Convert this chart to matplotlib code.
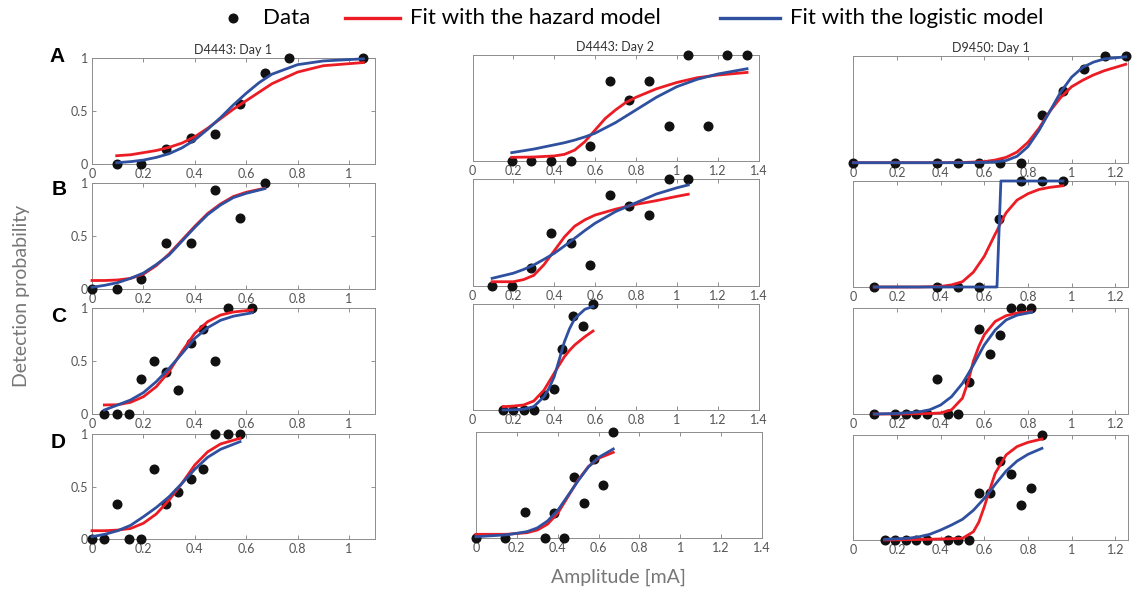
import matplotlib
matplotlib.use("Agg")
import matplotlib.pyplot as plt
from matplotlib.lines import Line2D

# ---- data ----
a1_x = [0.096, 0.192, 0.288, 0.384, 0.48, 0.576, 0.672, 0.768, 1.056]
a1_y = [0, 0, 0.143, 0.25, 0.286, 0.571, 0.857, 1, 1]
a1_fit_x = [0.096, 0.15, 0.2, 0.25, 0.3, 0.35, 0.4, 0.45, 0.5, 0.55, 0.6, 0.65, 0.7, 0.8, 0.9, 1.056]
a1_haz = [0.081, 0.09, 0.11, 0.13, 0.16, 0.20, 0.26, 0.34, 0.43, 0.52, 0.60, 0.68, 0.76, 0.87, 0.93, 0.96]
a1_log = [0.015, 0.025, 0.04, 0.065, 0.10, 0.155, 0.23, 0.33, 0.44, 0.56, 0.67, 0.77, 0.85, 0.94, 0.975, 0.995]

a2_x = [0.192, 0.288, 0.384, 0.48, 0.576, 0.672, 0.768, 0.864, 0.96, 1.056, 1.152, 1.248, 1.344]
a2_y = [0, 0, 0, 0, 0.143, 0.75, 0.571, 0.75, 0.333, 1, 0.333, 1, 1]
a2_fit_x = [0.192, 0.3, 0.4, 0.45, 0.5, 0.55, 0.6, 0.65, 0.7, 0.75, 0.8, 0.9, 1.0, 1.1, 1.2, 1.344]
a2_haz = [0.032, 0.035, 0.045, 0.06, 0.10, 0.18, 0.29, 0.40, 0.48, 0.55, 0.60, 0.68, 0.74, 0.785, 0.81, 0.835]
a2_log = [0.076, 0.11, 0.15, 0.17, 0.195, 0.225, 0.26, 0.31, 0.36, 0.42, 0.48, 0.60, 0.70, 0.77, 0.82, 0.87]

a3_x = [0, 0.192, 0.384, 0.48, 0.576, 0.672, 0.768, 0.864, 0.96, 1.056, 1.152, 1.248]
a3_y = [0, 0, 0, 0, 0, 0, 0, 0.444, 0.667, 0.875, 1, 1]
a3_fit_x = [0, 0.2, 0.4, 0.5, 0.6, 0.65, 0.7, 0.75, 0.8, 0.85, 0.9, 0.95, 1.0, 1.05, 1.1, 1.15, 1.248]
a3_haz = [0, 0, 0, 0.002, 0.01, 0.025, 0.05, 0.10, 0.19, 0.32, 0.48, 0.61, 0.71, 0.77, 0.82, 0.86, 0.92]
a3_log = [0, 0, 0, 0, 0.003, 0.008, 0.02, 0.06, 0.15, 0.30, 0.48, 0.66, 0.80, 0.89, 0.94, 0.97, 0.99]

b1_x = [0, 0.096, 0.192, 0.288, 0.384, 0.48, 0.576, 0.672]
b1_y = [0, 0, 0.091, 0.429, 0.429, 0.929, 0.667, 1]
b1_fit_x = [0, 0.05, 0.1, 0.15, 0.2, 0.25, 0.3, 0.35, 0.4, 0.45, 0.5, 0.55, 0.6, 0.672]
b1_haz = [0.08, 0.08, 0.085, 0.10, 0.14, 0.22, 0.33, 0.46, 0.59, 0.71, 0.80, 0.87, 0.91, 0.948]
b1_log = [0.016, 0.035, 0.06, 0.10, 0.15, 0.23, 0.32, 0.45, 0.58, 0.70, 0.79, 0.86, 0.90, 0.944]

b2_x = [0.096, 0.192, 0.288, 0.384, 0.48, 0.576, 0.672, 0.768, 0.864, 0.96, 1.056]
b2_y = [0, 0, 0.167, 0.5, 0.4, 0.2, 0.857, 0.75, 0.667, 1, 1]
b2_fit_x = [0.096, 0.2, 0.25, 0.3, 0.35, 0.4, 0.45, 0.5, 0.55, 0.6, 0.7, 0.8, 0.9, 1.0, 1.056]
b2_haz = [0.04, 0.04, 0.06, 0.10, 0.20, 0.33, 0.46, 0.56, 0.62, 0.665, 0.72, 0.765, 0.80, 0.84, 0.86]
b2_log = [0.072, 0.12, 0.155, 0.197, 0.25, 0.306, 0.375, 0.447, 0.52, 0.588, 0.697, 0.78, 0.862, 0.92, 0.947]

b3_x = [0.096, 0.384, 0.48, 0.576, 0.667, 0.768, 0.864, 0.96]
b3_y = [0, 0, 0, 0, 0.64, 1, 1, 1]
b3_fit_x = [0.096, 0.3, 0.4, 0.45, 0.5, 0.55, 0.6, 0.65, 0.658, 0.676, 0.7, 0.75, 0.8, 0.85, 0.9, 0.96]
b3_haz = [0, 0, 0.005, 0.02, 0.05, 0.14, 0.29, 0.50, 0.53, 0.61, 0.70, 0.82, 0.88, 0.92, 0.94, 0.955]
b3_log = [0, 0, 0, 0, 0, 0, 0, 0, 0, 1, 1, 1, 1, 1, 1, 1]

c1_x = [0.048, 0.096, 0.144, 0.192, 0.24, 0.288, 0.336, 0.384, 0.432, 0.48, 0.528, 0.624]
c1_y = [0, 0, 0, 0.333, 0.5, 0.4, 0.222, 0.667, 0.8, 0.5, 1, 1]
c1_fit_x = [0.048, 0.1, 0.15, 0.2, 0.25, 0.3, 0.35, 0.4, 0.45, 0.5, 0.55, 0.624]
c1_haz = [0.083, 0.085, 0.108, 0.161, 0.256, 0.40, 0.59, 0.763, 0.873, 0.936, 0.965, 0.984]
c1_log = [0.035, 0.083, 0.13, 0.20, 0.304, 0.43, 0.57, 0.715, 0.816, 0.886, 0.925, 0.958]

c2_x = [0.15, 0.2, 0.25, 0.3, 0.35, 0.4, 0.44, 0.49, 0.54, 0.59]
c2_y = [0, 0, 0, 0, 0.14, 0.2, 0.58, 0.89, 0.8, 1]
c2_fit_x = [0.15, 0.2, 0.25, 0.3, 0.35, 0.375, 0.4, 0.425, 0.45, 0.475, 0.5, 0.55, 0.59]
c2_haz = [0.034, 0.04, 0.05, 0.088, 0.19, 0.27, 0.35, 0.43, 0.506, 0.565, 0.616, 0.694, 0.748]
c2_log = [0.003, 0.005, 0.01, 0.035, 0.128, 0.21, 0.317, 0.48, 0.647, 0.77, 0.864, 0.953, 0.98]

c3_x = [0.096, 0.192, 0.24, 0.288, 0.336, 0.384, 0.432, 0.48, 0.528, 0.576, 0.624, 0.672, 0.72, 0.768, 0.816]
c3_y = [0, 0, 0, 0, 0, 0.333, 0, 0, 0.3, 0.8, 0.571, 0.75, 1, 1, 1]
c3_fit_x = [0.096, 0.2, 0.3, 0.35, 0.4, 0.45, 0.5, 0.525, 0.55, 0.575, 0.6, 0.65, 0.7, 0.75, 0.816]
c3_haz = [0, 0, 0.003, 0.005, 0.01, 0.04, 0.15, 0.30, 0.50, 0.64, 0.75, 0.876, 0.93, 0.955, 0.968]
c3_log = [0, 0.005, 0.02, 0.04, 0.085, 0.164, 0.29, 0.375, 0.464, 0.56, 0.653, 0.795, 0.89, 0.935, 0.962]

d1_x = [0, 0.048, 0.096, 0.144, 0.192, 0.24, 0.288, 0.336, 0.384, 0.432, 0.48, 0.528, 0.576]
d1_y = [0, 0, 0.333, 0, 0, 0.667, 0.333, 0.444, 0.571, 0.667, 1, 1, 1]
d1_fit_x = [0, 0.05, 0.1, 0.15, 0.2, 0.25, 0.3, 0.35, 0.4, 0.45, 0.5, 0.576]
d1_haz = [0.079, 0.079, 0.085, 0.10, 0.15, 0.238, 0.371, 0.53, 0.705, 0.83, 0.905, 0.959]
d1_log = [0.022, 0.045, 0.079, 0.13, 0.212, 0.30, 0.403, 0.53, 0.664, 0.778, 0.854, 0.927]

d2_x = [0, 0.144, 0.24, 0.336, 0.384, 0.432, 0.48, 0.528, 0.576, 0.624, 0.672]
d2_y = [0, 0, 0.25, 0, 0.233, 0, 0.571, 0.333, 0.75, 0.5, 1]
d2_fit_x = [0, 0.15, 0.25, 0.3, 0.35, 0.4, 0.45, 0.5, 0.55, 0.6, 0.672]
d2_haz = [0.035, 0.035, 0.05, 0.075, 0.13, 0.233, 0.39, 0.547, 0.673, 0.752, 0.808]
d2_log = [0.012, 0.03, 0.06, 0.095, 0.16, 0.26, 0.40, 0.54, 0.67, 0.76, 0.84]

d3_x = [0.144, 0.192, 0.24, 0.288, 0.336, 0.432, 0.48, 0.528, 0.576, 0.624, 0.672, 0.72, 0.768, 0.816, 0.864]
d3_y = [0, 0, 0, 0, 0, 0, 0, 0, 0.444, 0.444, 0.75, 0.625, 0.333, 0.5, 1]
d3_fit_x = [0.144, 0.25, 0.3, 0.35, 0.4, 0.45, 0.5, 0.55, 0.575, 0.6, 0.625, 0.65, 0.7, 0.75, 0.8, 0.864]
d3_haz = [0, 0.003, 0.005, 0.007, 0.01, 0.012, 0.016, 0.079, 0.17, 0.317, 0.48, 0.635, 0.81, 0.89, 0.93, 0.962]
d3_log = [0.006, 0.016, 0.03, 0.054, 0.095, 0.143, 0.197, 0.283, 0.34, 0.397, 0.46, 0.53, 0.657, 0.752, 0.816, 0.873]

titles = ["D4443: Day 1", "D4443: Day 2", "D9450: Day 1"]
row_letters = ["A", "B", "C", "D"]
col_xmax = [1.1, 1.4, 1.26]
col_xticks = [[0, 0.2, 0.4, 0.6, 0.8, 1],
              [0, 0.2, 0.4, 0.6, 0.8, 1, 1.2, 1.4],
              [0, 0.2, 0.4, 0.6, 0.8, 1, 1.2]]

panels = [
    [(a1_x, a1_y, a1_fit_x, a1_haz, a1_log), (a2_x, a2_y, a2_fit_x, a2_haz, a2_log), (a3_x, a3_y, a3_fit_x, a3_haz, a3_log)],
    [(b1_x, b1_y, b1_fit_x, b1_haz, b1_log), (b2_x, b2_y, b2_fit_x, b2_haz, b2_log), (b3_x, b3_y, b3_fit_x, b3_haz, b3_log)],
    [(c1_x, c1_y, c1_fit_x, c1_haz, c1_log), (c2_x, c2_y, c2_fit_x, c2_haz, c2_log), (c3_x, c3_y, c3_fit_x, c3_haz, c3_log)],
    [(d1_x, d1_y, d1_fit_x, d1_haz, d1_log), (d2_x, d2_y, d2_fit_x, d2_haz, d2_log), (d3_x, d3_y, d3_fit_x, d3_haz, d3_log)],
]

# ---- layout (pixel boxes: left, right, top, bottom) ----
W, H = 1136, 589
col_lr = [(92, 374.7), (472.5, 758.5), (853.3, 1128.4)]
row_tb = [
    [(58.3, 164.3), (55, 160.7), (55.7, 162.7)],
    [(182.7, 289), (179.3, 286), (181, 287)],
    [(308.3, 413.7), (304.3, 410.3), (308.3, 414)],
    [(434, 539), (432, 538), (435, 540)],
]

RED = "#ec1c24"
BLUE = "#2f4f9f"
GRAY = "#7f7f7f"
TXT = "#555555"
FONT = "Lato"

fig = plt.figure(figsize=(W / 100, H / 100), dpi=100)

for r in range(4):
    for c in range(3):
        l, rr = col_lr[c]
        t, b = row_tb[r][c]
        if r == 3 and c == 1:
            l, rr = l + 3.5, rr + 3.5
        ax = fig.add_axes([l / W, 1 - b / H, (rr - l) / W, (b - t) / H])
        x, y, fx, fh, fl = panels[r][c]
        ax.plot(x, y, "o", color="#111111", ms=6.2, clip_on=False, zorder=3)
        ax.plot(fx, fh, "-", color=RED, lw=2.0, zorder=4, clip_on=False)
        ax.plot(fx, fl, "-", color=BLUE, lw=2.0, zorder=5, clip_on=False)
        ax.set_xlim(0, col_xmax[c])
        ax.set_ylim(0, 1)
        ax.set_xticks(col_xticks[c])
        ax.set_xticklabels([("%g" % v) for v in col_xticks[c]], fontsize=9,
                           color=TXT, family=FONT)
        if c == 0:
            ax.set_yticks([0, 0.5, 1])
            ax.set_yticklabels(["0", "0.5", "1"], fontsize=9, color=TXT, family=FONT)
            ax.tick_params(axis="y", direction="in", length=3, width=0.6,
                           color=GRAY, left=True, right=True, pad=3)
        else:
            ax.set_yticks([])
        ax.tick_params(axis="x", direction="in", length=3, width=0.6,
                       color=GRAY, top=True, bottom=True, pad=3)
        for s in ax.spines.values():
            s.set_color("#8c8c8c")
            s.set_linewidth(0.7)
        if r == 0:
            ax.set_title(titles[c], fontsize=9, color="#333333", family=FONT, pad=3)

# row letters
letter_pos = [(57, 56), (59, 190), (59, 316), (58, 443)]
for (lx, ly), s in zip(letter_pos, row_letters):
    fig.text(lx / W, 1 - ly / H, s, fontsize=15, fontweight="bold",
             family="Liberation Sans", ha="center", va="center")

# axis labels
fig.text(22 / W, 1 - 296 / H, "Detection probability", rotation=90, fontsize=14,
         color="#777777", family=FONT, ha="center", va="center")
fig.text(618 / W, 1 - 577 / H, "Amplitude [mA]", fontsize=14,
         color="#777777", family=FONT, ha="center", va="center")

# legend
ly = 1 - 18 / H
fig.add_artist(Line2D([233 / W], [ly], marker="o", color="#111111", ms=6.2, ls="none"))
fig.text(263 / W, ly, "Data", fontsize=16, family=FONT, va="center")
fig.add_artist(Line2D([345 / W, 400 / W], [ly, ly], color=RED, lw=2.4))
fig.text(410 / W, ly, "Fit with the hazard model", fontsize=16, family=FONT, va="center")
fig.add_artist(Line2D([720 / W, 780 / W], [ly, ly], color=BLUE, lw=2.4))
fig.text(790 / W, ly, "Fit with the logistic model", fontsize=16, family=FONT, va="center")

fig.savefig("out.png", dpi=100)
